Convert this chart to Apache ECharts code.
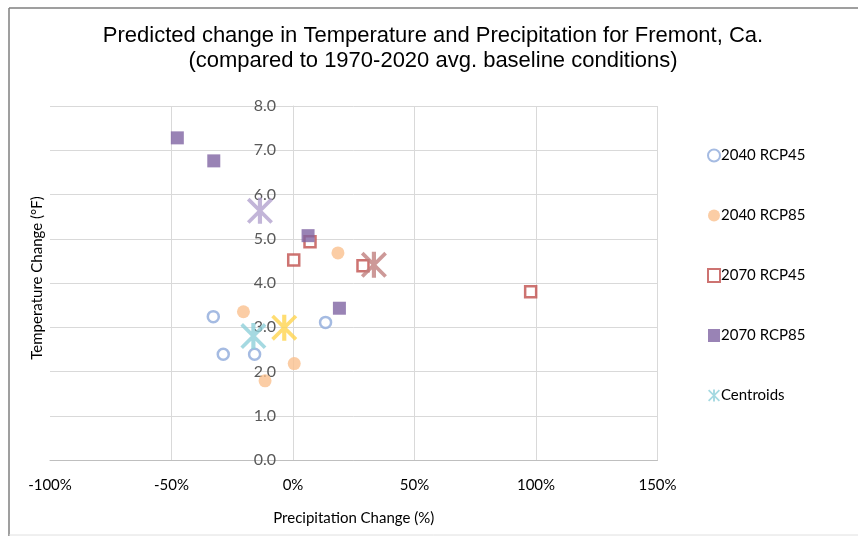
<!DOCTYPE html>
<html>
<head>
<meta charset="utf-8">
<script src="https://cdn.jsdelivr.net/npm/echarts@6/dist/echarts.min.js"></script>
<style>
html,body{margin:0;padding:0;background:#fff;}
#chart{width:858px;height:536px;}
</style>
</head>
<body>
<div id="chart"></div>
<script>
// Data: [precipitation change %, temperature change °F]
const seriesNames = ['2040 RCP45', '2040 RCP85', '2070 RCP45', '2070 RCP85', 'Centroids'];
const rcp45_2040 = [[-32.8, 3.24], [-28.7, 2.39], [-15.8, 2.39], [13.4, 3.11]];
const rcp85_2040 = [[-20.4, 3.35], [18.5, 4.68], [0.5, 2.18], [-11.5, 1.79]];
const rcp45_2070 = [[7.0, 4.93], [0.3, 4.52], [28.8, 4.39], [97.8, 3.80]];
const rcp85_2070 = [[-47.6, 7.28], [-32.6, 6.76], [6.2, 5.07], [19.1, 3.43]];
const centroids = [[-16.3, 2.80], [-3.6, 2.99], [33.3, 4.41], [-13.6, 5.63]];
const centroidColors = ['#8ECFDA', '#FFD54F', '#C0807E', '#B3A2CE'];
const xMin = -100, xMax = 150, xStep = 50;
const yMin = 0, yMax = 8, yStep = 1;

const gridLeft = 50, gridRight = 200.5;
const gridWidth = 858 - gridLeft - gridRight;
const yAxisOffset = -gridWidth * (0 - xMin) / (xMax - xMin);

const starPath = 'path://M42,0 L58,0 L58,100 L42,100 Z M0,10 L10,0 L100,90 L90,100 Z M90,0 L100,10 L10,100 L0,90 Z';

const chart = echarts.init(document.getElementById('chart'));
chart.setOption({
  animation: false,
  backgroundColor: '#fff',
  title: {
    text: 'Predicted change in Temperature and Precipitation for Fremont, Ca.\n(compared to 1970-2020 avg. baseline conditions)',
    left: 428, top: 18, textAlign: 'center',
    textStyle: { fontFamily: 'Liberation Sans', fontSize: 22, fontWeight: 'normal', color: '#000', lineHeight: 25 }
  },
  legend: {
    orient: 'vertical', left: 702, top: 143, itemGap: 45, itemWidth: 12, itemHeight: 13,
    textStyle: { fontFamily: 'Lato', fontSize: 15, color: '#000', padding: [0, 0, 0, -4] },
    data: [
      { name: '2040 RCP45', icon: 'circle' },
      { name: '2040 RCP85', icon: 'circle' },
      { name: '2070 RCP45', icon: 'rect' },
      { name: '2070 RCP85', icon: 'rect' },
      { name: 'Centroids', icon: starPath }
    ]
  },
  grid: { left: gridLeft, right: gridRight, top: 106, bottom: 76 },
  xAxis: {
    type: 'value', min: xMin, max: xMax, interval: xStep,
    name: 'Precipitation Change (%)', nameLocation: 'middle', nameGap: 51,
    nameTextStyle: { fontFamily: 'Lato', fontSize: 15, color: '#000' },
    axisLine: { show: true, onZero: false, lineStyle: { color: '#BFBFBF', width: 1 } },
    axisTick: { show: false },
    axisLabel: { margin: 18, fontFamily: 'Lato', fontSize: 15, color: '#000', formatter: '{value}%' },
    splitLine: { show: true, showMinLine: false, lineStyle: { color: '#D9D9D9', width: 1 } }
  },
  yAxis: {
    type: 'value', min: yMin, max: yMax, interval: yStep, position: 'left', offset: yAxisOffset,
    axisLine: { show: true, onZero: false, lineStyle: { color: '#D9D9D9', width: 1 } },
    axisTick: { show: false },
    axisLabel: { margin: 17, fontFamily: 'Lato', fontSize: 16, color: '#595959', formatter: v => v.toFixed(1) },
    splitLine: { show: true, lineStyle: { color: '#D9D9D9', width: 1 } }
  },
  graphic: [
    { type: 'line', shape: { x1: 9, y1: 8, x2: 858, y2: 8 }, style: { stroke: '#7F7F7F', lineWidth: 1.5 } },
    { type: 'line', shape: { x1: 9, y1: 8, x2: 9, y2: 536 }, style: { stroke: '#7F7F7F', lineWidth: 1.5 } },
    { type: 'line', shape: { x1: 9, y1: 535, x2: 858, y2: 535 }, style: { stroke: '#E0E0E0', lineWidth: 1 } },
    { type: 'text', x: 37, y: 278, rotation: Math.PI / 2,
      style: { text: 'Temperature Change (°F)', fontFamily: 'Lato', fontSize: 15, fill: '#000',
               textAlign: 'center', textVerticalAlign: 'middle' } }
  ],
  series: [
    { name: seriesNames[0], type: 'scatter', data: rcp45_2040, symbol: 'circle', symbolSize: 11,
      itemStyle: { color: '#fff', borderColor: '#8EAADB', borderWidth: 2.5 } },
    { name: seriesNames[1], type: 'scatter', data: rcp85_2040, symbol: 'circle', symbolSize: 13,
      itemStyle: { color: '#FAC08F' } },
    { name: seriesNames[2], type: 'scatter', data: rcp45_2070, symbol: 'rect', symbolSize: 11,
      itemStyle: { color: '#fff', borderColor: '#C0504D', borderWidth: 2.5 } },
    { name: seriesNames[3], type: 'scatter', data: rcp85_2070, symbol: 'rect', symbolSize: 13,
      itemStyle: { color: '#8064A2' } },
    { name: seriesNames[4], type: 'scatter', symbol: starPath, symbolSize: 26, symbolKeepAspect: true,
      itemStyle: { color: '#8ECFDA' },
      data: centroids.map((p, i) => ({ value: p, itemStyle: { color: centroidColors[i] } })) }
  ]
});
</script>
</body>
</html>
